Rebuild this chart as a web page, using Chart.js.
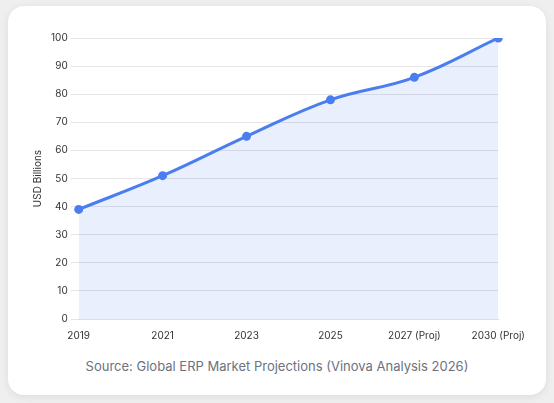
<!DOCTYPE html>
<html><head><meta charset="utf-8">
<script src="https://cdn.jsdelivr.net/npm/chart.js@4/dist/chart.umd.min.js"></script>
<style>
html,body{margin:0;padding:0;background:#efefef;width:554px;height:403px;overflow:hidden;font-family:Inter,sans-serif}
.card{position:absolute;left:8px;top:6px;width:538px;height:389px;background:#fff;border-radius:16px;box-shadow:0 2px 8px rgba(0,0,0,0.08)}
.wrap{position:absolute;left:28px;top:29px;width:500px;height:316px}
.src{position:absolute;left:0;width:554px;top:358px;text-align:center;color:#6b7280;font-size:13px}
</style></head><body>
<div class="card"></div>
<div class="wrap"><canvas id="c"></canvas></div>
<div class="src">Source: Global ERP Market Projections (Vinova Analysis 2026)</div>
<script>
const categories=["2019","2021","2023","2025","2027 (Proj)","2030 (Proj)"];
const values=[39,51,65,78,86,100];
new Chart(document.getElementById('c'),{type:'line',
data:{labels:categories,datasets:[{data:values,borderColor:'#4a7ef0',backgroundColor:'rgba(74,126,240,0.12)',fill:true,tension:0.4,borderWidth:3,pointRadius:3,pointBackgroundColor:'#4a7ef0',pointBorderColor:'#4a7ef0'}]},
options:{responsive:true,maintainAspectRatio:false,animation:false,
layout:{padding:{right:4,top:4}},
plugins:{legend:{display:false},tooltip:{enabled:false}},
scales:{y:{min:0,max:100,ticks:{stepSize:10,color:'#333',font:{size:10,family:'Inter'}},grid:{color:'#e5e5e5'},border:{display:false},
title:{display:true,text:'USD Billions',color:'#333',font:{size:10,family:'Inter'}}},
x:{offset:false,ticks:{color:'#333',font:{size:10,family:'Inter'}},grid:{display:false},border:{color:'#ddd'}}}}});
</script></body></html>
